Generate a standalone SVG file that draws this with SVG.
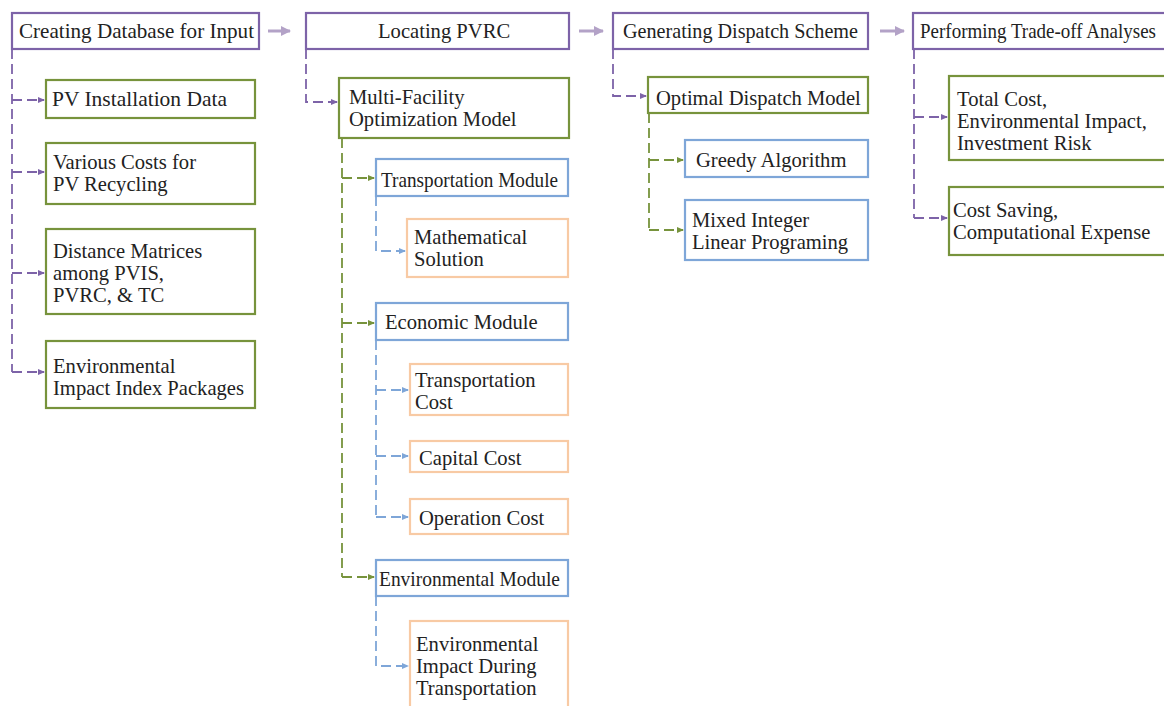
<svg xmlns="http://www.w3.org/2000/svg" width="1164" height="706" viewBox="0 0 1164 706">
<style>
text{font-family:"Liberation Serif","Times New Roman",serif;font-size:20.6px;fill:#222}
.bp{fill:#fff;stroke:#7d63a8;stroke-width:2.2}
.bg{fill:#fff;stroke:#77933c;stroke-width:2.2}
.bb{fill:#fff;stroke:#7ea6d8;stroke-width:2.2}
.bo{fill:#fff;stroke:#f8caa4;stroke-width:2.2}
.lp{fill:none;stroke:#7d63a8;stroke-width:1.8;stroke-dasharray:10 5}
.lg{fill:none;stroke:#77933c;stroke-width:1.8;stroke-dasharray:10 5}
.lb{fill:none;stroke:#7ea6d8;stroke-width:1.8;stroke-dasharray:10 5}
.top{fill:none;stroke:#b3a2c7;stroke-width:3}
</style>
<defs>
<marker id="mp" markerWidth="8" markerHeight="8" refX="6" refY="4" orient="auto" markerUnits="userSpaceOnUse"><path d="M0,1 L7,4 L0,7 Z" fill="#7d63a8"/></marker>
<marker id="mg" markerWidth="8" markerHeight="8" refX="6" refY="4" orient="auto" markerUnits="userSpaceOnUse"><path d="M0,1 L7,4 L0,7 Z" fill="#77933c"/></marker>
<marker id="mb" markerWidth="8" markerHeight="8" refX="6" refY="4" orient="auto" markerUnits="userSpaceOnUse"><path d="M0,1 L7,4 L0,7 Z" fill="#7ea6d8"/></marker>
<marker id="mt" markerWidth="12" markerHeight="12" refX="9" refY="6" orient="auto" markerUnits="userSpaceOnUse"><path d="M0,1 L10,6 L0,11 Z" fill="#b3a2c7"/></marker>
</defs>
<g id="connectors">
<path class="top" d="M268,31 H290" marker-end="url(#mt)"/>
<path class="top" d="M579,31 H603" marker-end="url(#mt)"/>
<path class="top" d="M880,31 H904" marker-end="url(#mt)"/>
<path class="lp" d="M12,49 V372"/>
<path class="lp" d="M12,100 H44" marker-end="url(#mp)"/>
<path class="lp" d="M12,172 H44" marker-end="url(#mp)"/>
<path class="lp" d="M12,273 H44" marker-end="url(#mp)"/>
<path class="lp" d="M12,372 H44" marker-end="url(#mp)"/>
<path class="lp" d="M306,49 V102 H337" marker-end="url(#mp)"/>
<path class="lg" d="M342,138 V577"/>
<path class="lg" d="M342,178 H374" marker-end="url(#mg)"/>
<path class="lg" d="M342,323 H374" marker-end="url(#mg)"/>
<path class="lg" d="M342,577 H374" marker-end="url(#mg)"/>
<path class="lb" d="M376,196 V251 H405" marker-end="url(#mb)"/>
<path class="lb" d="M376,340 V517"/>
<path class="lb" d="M376,390 H408" marker-end="url(#mb)"/>
<path class="lb" d="M376,456 H408" marker-end="url(#mb)"/>
<path class="lb" d="M376,517 H408" marker-end="url(#mb)"/>
<path class="lb" d="M376,596 V666 H408" marker-end="url(#mb)"/>
<path class="lp" d="M613,49 V96 H646" marker-end="url(#mp)"/>
<path class="lg" d="M649,113 V230"/>
<path class="lg" d="M649,160 H683" marker-end="url(#mg)"/>
<path class="lg" d="M649,230 H683" marker-end="url(#mg)"/>
<path class="lp" d="M914,49 V218"/>
<path class="lp" d="M914,117 H947" marker-end="url(#mp)"/>
<path class="lp" d="M914,218 H947" marker-end="url(#mp)"/>
</g>
<g id="n-db"><rect class="bp" x="12" y="13" width="247" height="36"/><text x="19" y="38" textLength="235" lengthAdjust="spacingAndGlyphs">Creating Database for Input</text></g>
<g id="n-locating"><rect class="bp" x="306" y="13" width="263" height="36"/><text x="378" y="38">Locating PVRC</text></g>
<g id="n-dispatch"><rect class="bp" x="613" y="13" width="255" height="36"/><text x="623" y="38" textLength="235" lengthAdjust="spacingAndGlyphs">Generating Dispatch Scheme</text></g>
<g id="n-tradeoff"><rect class="bp" x="913" y="13" width="260" height="36"/><text x="920" y="38" textLength="236" lengthAdjust="spacingAndGlyphs">Performing Trade-off Analyses</text></g>
<g id="n-pvinst"><rect class="bg" x="46" y="80" width="209" height="38"/><text x="52" y="106" textLength="175" lengthAdjust="spacingAndGlyphs">PV Installation Data</text></g>
<g id="n-costs"><rect class="bg" x="46" y="143" width="209" height="61"/><text x="53" y="169">Various Costs for</text><text x="53" y="191">PV Recycling</text></g>
<g id="n-distance"><rect class="bg" x="46" y="229" width="209" height="85"/><text x="53" y="258">Distance Matrices</text><text x="53" y="280">among PVIS,</text><text x="53" y="302">PVRC, &amp; TC</text></g>
<g id="n-envidx"><rect class="bg" x="46" y="341" width="209" height="67"/><text x="53" y="373">Environmental</text><text x="53" y="395">Impact Index Packages</text></g>
<g id="n-multi"><rect class="bg" x="339" y="78" width="230" height="60"/><text x="349" y="104">Multi-Facility</text><text x="349" y="126">Optimization Model</text></g>
<g id="n-transmod"><rect class="bb" x="376" y="159" width="192" height="37"/><text x="381" y="187" textLength="177" lengthAdjust="spacingAndGlyphs">Transportation Module</text></g>
<g id="n-math"><rect class="bo" x="407" y="219" width="161" height="58"/><text x="414" y="244">Mathematical</text><text x="414" y="266">Solution</text></g>
<g id="n-econ"><rect class="bb" x="376" y="303" width="192" height="37"/><text x="385" y="329">Economic Module</text></g>
<g id="n-transcost"><rect class="bo" x="410" y="364" width="158" height="51"/><text x="415" y="387">Transportation</text><text x="415" y="409">Cost</text></g>
<g id="n-capital"><rect class="bo" x="410" y="441" width="158" height="31"/><text x="419" y="465">Capital Cost</text></g>
<g id="n-operation"><rect class="bo" x="410" y="499" width="158" height="35"/><text x="419" y="525">Operation Cost</text></g>
<g id="n-envmod"><rect class="bb" x="376" y="560" width="192" height="36"/><text x="379" y="586" textLength="181" lengthAdjust="spacingAndGlyphs">Environmental Module</text></g>
<g id="n-envimpact"><rect class="bo" x="410" y="621" width="158" height="100"/><text x="416" y="651">Environmental</text><text x="416" y="673">Impact During</text><text x="416" y="695">Transportation</text></g>
<g id="n-optimal"><rect class="bg" x="648" y="77" width="220" height="36"/><text x="656" y="105">Optimal Dispatch Model</text></g>
<g id="n-greedy"><rect class="bb" x="685" y="140" width="183" height="37"/><text x="696" y="167">Greedy Algorithm</text></g>
<g id="n-milp"><rect class="bb" x="685" y="200" width="183" height="60"/><text x="692" y="227">Mixed Integer</text><text x="692" y="249">Linear Programing</text></g>
<g id="n-total"><rect class="bg" x="949" y="76" width="230" height="84"/><text x="957" y="106">Total Cost,</text><text x="957" y="128">Environmental Impact,</text><text x="957" y="150">Investment Risk</text></g>
<g id="n-saving"><rect class="bg" x="949" y="187" width="230" height="68"/><text x="953" y="217">Cost Saving,</text><text x="953" y="239">Computational Expense</text></g>
</svg>
